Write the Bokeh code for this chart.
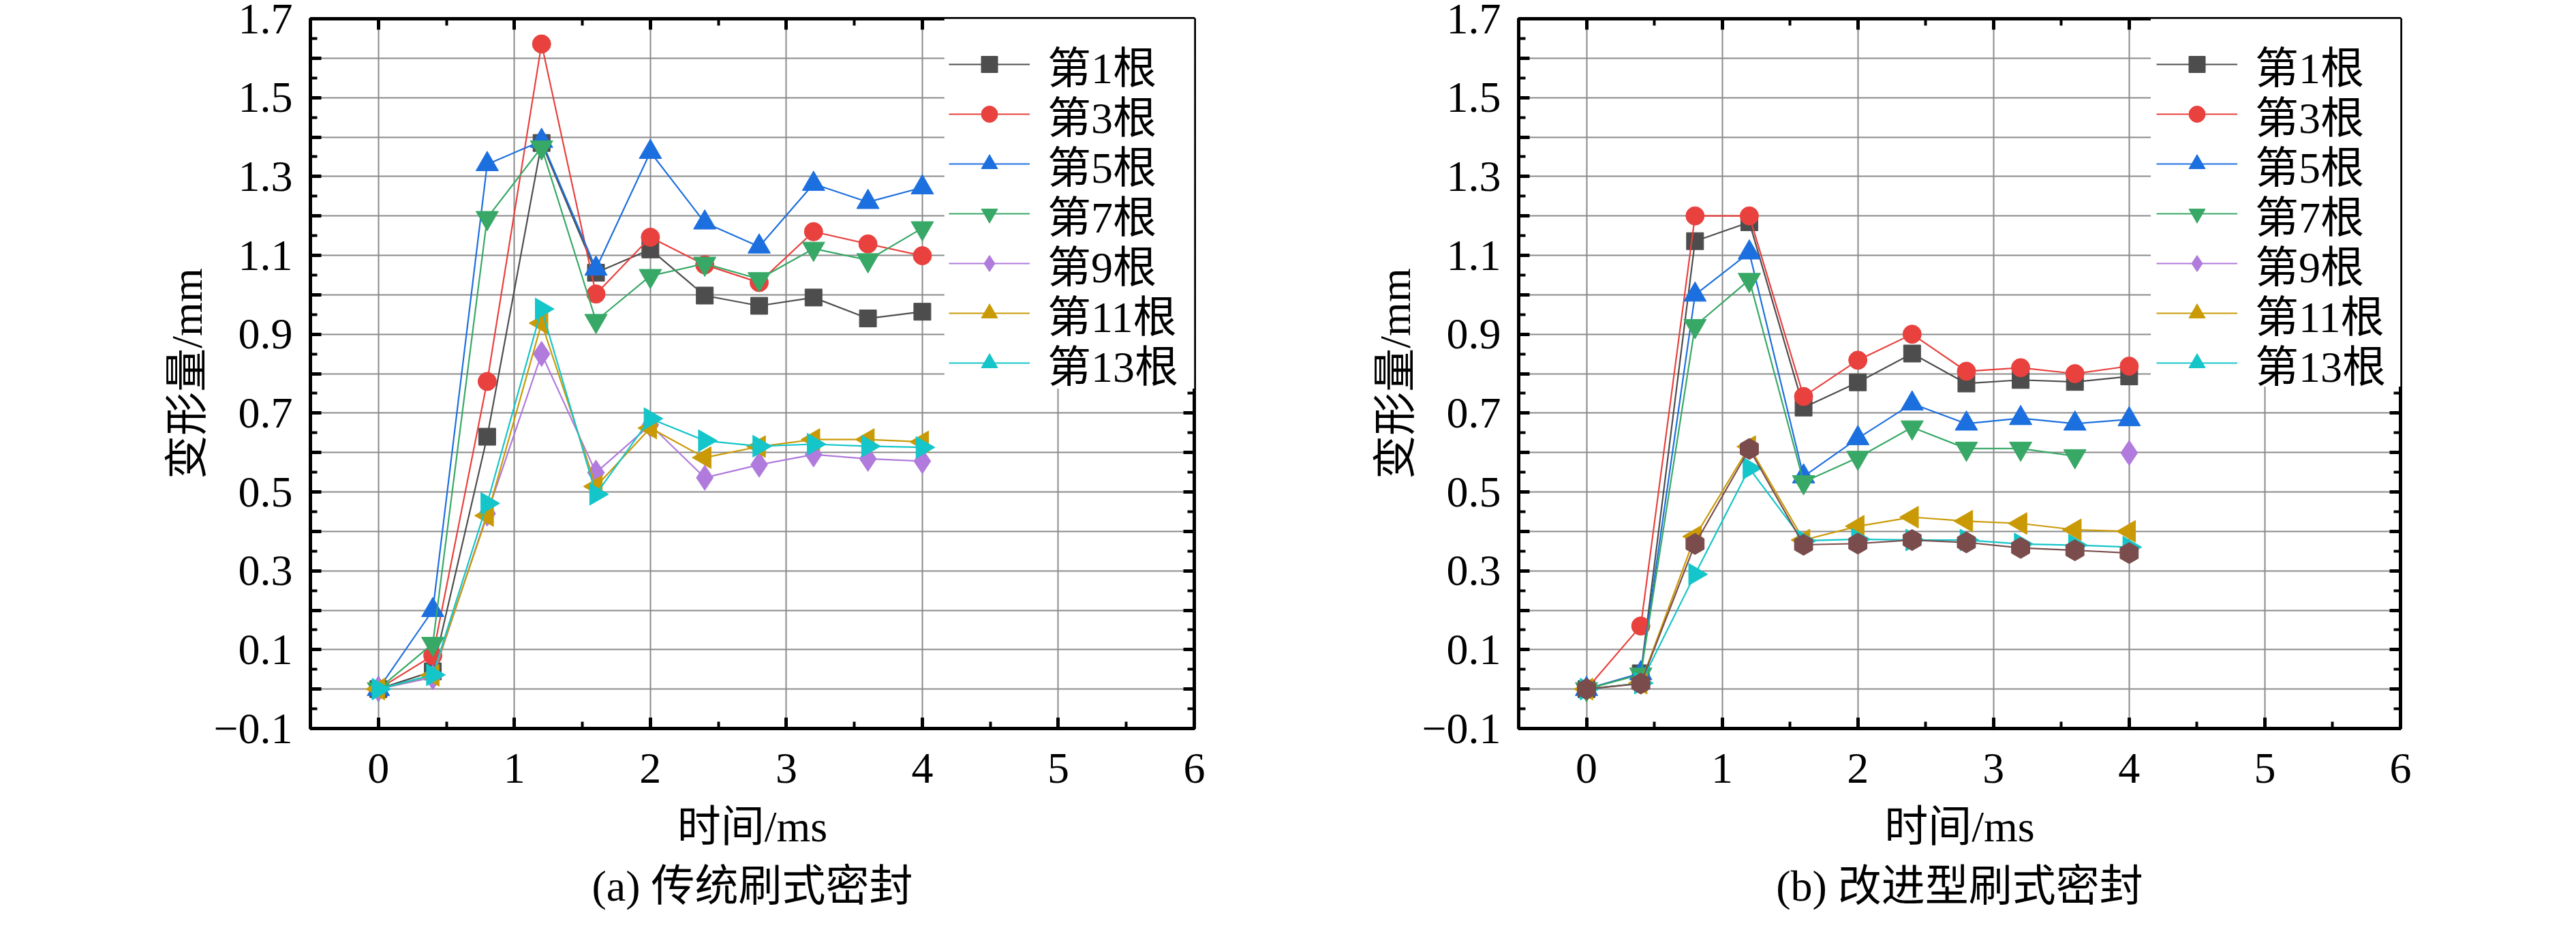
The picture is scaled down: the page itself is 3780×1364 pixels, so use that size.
import math
from bokeh.plotting import figure
from bokeh.models import (FixedTicker, LinearAxis, Legend, LegendItem, Range1d, Title,
                          BoxAnnotation)
from bokeh.layouts import row
from bokeh.embed import file_html
from bokeh.resources import INLINE

NAN = float("nan")

# ---------------- data ----------------
time_ms = [0, 0.4, 0.8, 1.2, 1.6, 2.0, 2.4, 2.8, 3.2, 3.6, 4.0]
series_names = ["第1根", "第3根", "第5根", "第7根", "第9根", "第11根", "第13根"]

# (a) traditional brush seal
a_s1 = [0, 0.045, 0.64, 1.385, 1.056, 1.115, 0.998, 0.972, 0.993, 0.940, 0.957]
a_s3 = [0, 0.085, 0.78, 1.636, 1.002, 1.146, 1.076, 1.031, 1.160, 1.129, 1.099]
a_s5 = [0, 0.20, 1.331, 1.39, 1.066, 1.362, 1.183, 1.122, 1.281, 1.235, 1.272]
a_s7 = [0, 0.115, 1.195, 1.374, 0.934, 1.048, 1.079, 1.040, 1.117, 1.088, 1.169]
a_s9 = [0, 0.03, 0.445, 0.85, 0.549, 0.670, 0.536, 0.569, 0.595, 0.584, 0.578]
a_s11 = [0, 0.035, 0.44, 0.928, 0.514, 0.662, 0.587, 0.615, 0.633, 0.633, 0.627]
a_s13 = [0, 0.036, 0.471, 0.964, 0.494, 0.686, 0.630, 0.616, 0.621, 0.616, 0.613]

# (b) improved brush seal
b_s1 = [0, 0.04, 1.136, 1.184, 0.714, 0.778, 0.851, 0.775, 0.784, 0.779, 0.793]
b_s3 = [0, 0.16, 1.20, 1.20, 0.742, 0.834, 0.900, 0.806, 0.815, 0.800, 0.819]
b_s5 = [0, 0.04, 1.00, 1.107, 0.539, 0.636, 0.724, 0.673, 0.687, 0.673, 0.684]
b_s7 = [0, 0.037, 0.921, 1.038, 0.525, 0.587, 0.664, 0.610, 0.610, 0.591, NAN]
b_s9 = [NAN, NAN, NAN, NAN, NAN, NAN, NAN, NAN, NAN, NAN, 0.599]
b_s11 = [0, 0.015, 0.387, 0.615, 0.378, 0.413, 0.436, 0.426, 0.420, 0.404, 0.400]
b_s13 = [0, 0.015, 0.291, 0.560, 0.376, 0.380, 0.378, 0.378, 0.368, 0.365, 0.360]
b_extra = [0, 0.014, 0.368, 0.609, 0.366, 0.369, 0.378, 0.372, 0.358, 0.352, 0.345]

x_tick_values = [0, 1, 2, 3, 4, 5, 6]
x_minor_values = [-0.5, 0.5, 1.5, 2.5, 3.5, 4.5, 5.5]
y_tick_values = [round(-0.1 + 0.1 * k, 1) for k in range(19)]
y_minor_values = [round(-0.05 + 0.1 * k, 2) for k in range(18)]
y_tick_text = [(f"{t:.1f}".replace("-", "\u2212") if k % 2 == 0 else "") for k, t in enumerate(y_tick_values)]

captions = ["(a) 传统刷式密封", "(b) 改进型刷式密封"]
x_title = "时间/ms"
y_title = "变形量/mm"

# ---------------- styles / layout ----------------
FONT = "Liberation Serif, Noto Sans CJK SC"
FS = "64px"
styles = [
    ("square", "#4d4d4d", 25, 0.0),
    ("circle", "#e8413e", 27, 0.0),
    ("triangle", "#1c6fde", 33, 0.0),
    ("inverted_triangle", "#38a866", 33, 0.0),
    ("diamond", "#b07bdc", 37, 0.0),
    ("triangle", "#c99a06", 32, math.pi / 2),
    ("triangle", "#14c5c9", 32, -math.pi / 2),
]
extra_style = ("hex", "#7a4c4c", 31, math.pi / 2)
LEG_ROW_STEP = 73      # px between legend rows
LEG_ITEM_H = 100       # px height of each legend item box


def style_axis(ax):
    ax.axis_line_color = None
    ax.major_tick_in = 16
    ax.major_tick_out = 0
    ax.minor_tick_in = 10
    ax.minor_tick_out = 0
    ax.major_tick_line_width = 5
    ax.minor_tick_line_width = 4
    ax.major_tick_line_color = "black"
    ax.minor_tick_line_color = "black"
    ax.major_label_text_font = FONT
    ax.major_label_text_font_size = FS
    ax.major_label_text_color = "black"
    ax.axis_label_text_font = FONT
    ax.axis_label_text_font_size = FS
    ax.axis_label_text_font_style = "normal"
    ax.axis_label_text_color = "black"


def make_panel(series, width, left, right, top, bottom, caption, leg_x, leg_top_y, box_edges,
               extra=None):
    p = figure(width=width, height=1348, x_range=Range1d(-0.5, 6), y_range=Range1d(-0.1, 1.7),
               output_backend="svg", toolbar_location=None,
               min_border_left=left, min_border_right=right,
               min_border_top=top, min_border_bottom=bottom)
    p.outline_line_color = "black"
    p.outline_line_width = 5
    p.background_fill_color = "white"
    p.border_fill_color = "white"

    xt = FixedTicker(ticks=x_tick_values, minor_ticks=x_minor_values)
    yt = FixedTicker(ticks=y_tick_values, minor_ticks=y_minor_values)
    overrides = {t: s for t, s in zip(y_tick_values, y_tick_text)}

    for ax in p.xaxis:
        ax.ticker = xt
        style_axis(ax)
        ax.major_label_standoff = 37
        ax.axis_label = x_title
        ax.axis_label_standoff = 26
    for ax in p.yaxis:
        ax.ticker = yt
        style_axis(ax)
        ax.major_label_overrides = overrides
        ax.major_label_standoff = 26
        ax.axis_label = y_title
        ax.axis_label_standoff = 0

    top_ax = LinearAxis(ticker=xt)
    style_axis(top_ax)
    top_ax.major_label_overrides = {t: "" for t in x_tick_values}
    top_ax.major_label_standoff = 0
    p.add_layout(top_ax, "above")
    right_ax = LinearAxis(ticker=yt)
    style_axis(right_ax)
    right_ax.major_label_overrides = {t: "" for t in y_tick_values}
    right_ax.major_label_standoff = 0
    p.add_layout(right_ax, "right")

    p.xgrid.ticker = xt
    p.ygrid.ticker = yt
    for g in (p.xgrid, p.ygrid):
        g.grid_line_color = "#8a8a8a"
        g.grid_line_width = 2

    items = []
    for name, ys, (mk, col, sz, ang) in zip(series_names, series, styles):
        lr = p.line(time_ms, ys, line_color=col, line_width=2.2)
        sr = p.scatter(time_ms, ys, marker=mk, size=sz, angle=ang,
                       fill_color=col, line_color=col, line_width=1)
        items.append(LegendItem(label=name, renderers=[lr, sr]))
    if extra is not None:
        mk, col, sz, ang = extra_style
        p.line(time_ms, extra, line_color=col, line_width=2.2)
        p.scatter(time_ms, extra, marker=mk, size=sz, angle=ang,
                  fill_color=col, line_color=col, line_width=1)

    # white legend backdrop
    bl, bb = box_edges
    p.add_layout(BoxAnnotation(left=bl, right=6, bottom=bb, top=1.7,
                               fill_color="white", fill_alpha=1.0, line_color=None))

    # one legend per row, stacked with a fixed row step
    for k, item in enumerate(items):
        centre_from_bottom = leg_top_y - k * LEG_ROW_STEP
        lg = Legend(items=[item], location=(leg_x, centre_from_bottom - LEG_ITEM_H // 2))
        lg.label_text_font = FONT
        lg.label_text_font_size = FS
        lg.label_text_color = "black"
        lg.glyph_width = 119
        lg.glyph_height = 60
        lg.label_height = LEG_ITEM_H
        lg.label_standoff = 26
        lg.spacing = 0
        lg.padding = 0
        lg.margin = 0
        lg.border_line_color = None
        lg.background_fill_alpha = 0.0
        p.add_layout(lg)

    cap = Title(text=caption, align="center", text_font=FONT, text_font_size=FS,
                text_font_style="normal", text_color="black", standoff=22)
    p.add_layout(cap, "below")
    return p


pa = make_panel([a_s1, a_s3, a_s5, a_s7, a_s9, a_s11, a_s13], 1890,
                455, 138, 24, 280, captions[0], 937, 974, (4.162, 0.762))
pb = make_panel([b_s1, b_s3, b_s5, b_s7, b_s9, b_s11, b_s13], 1874,
                338, 242, 27, 277, captions[1], 936, 974, (4.159, 0.767), extra=b_extra)

layout = row(pa, pb)
open("out.html", "w").write(file_html(layout, INLINE))
